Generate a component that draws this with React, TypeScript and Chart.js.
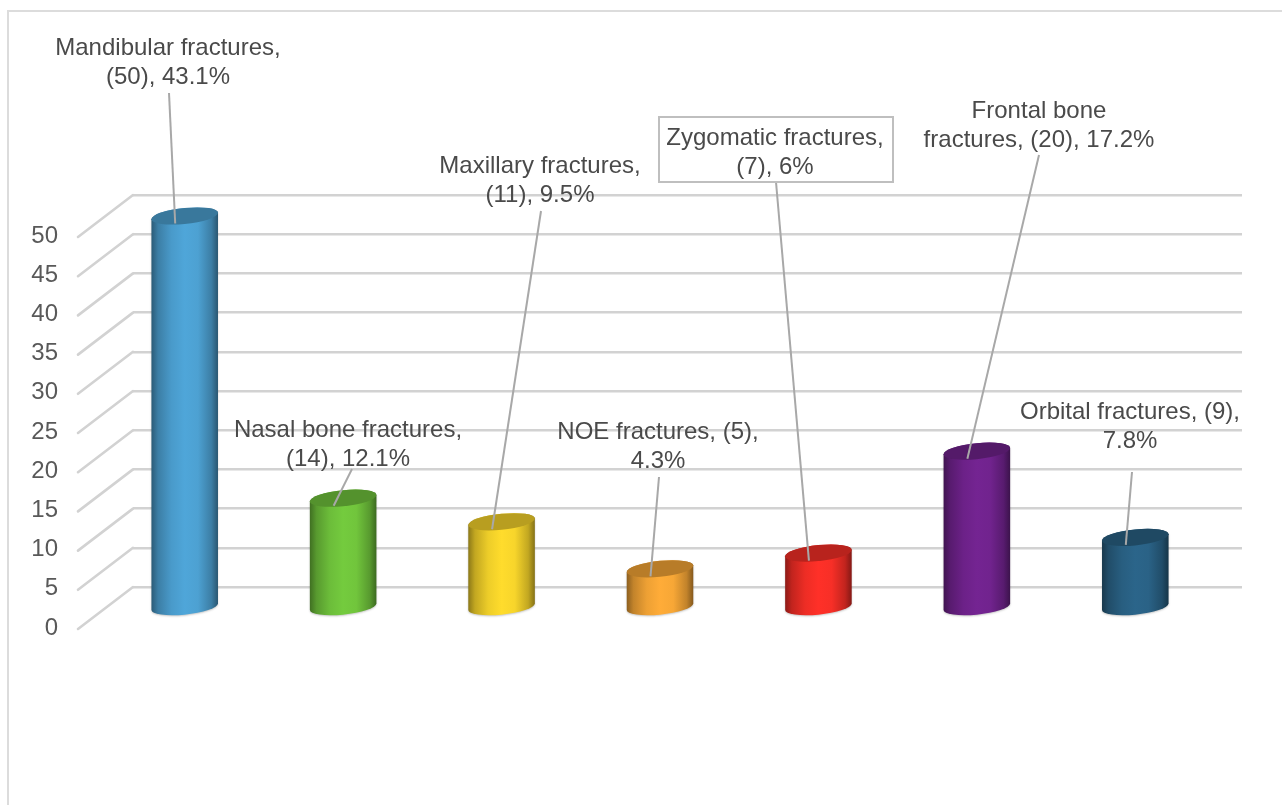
import React, { useEffect, useRef } from "react";
import { Chart, registerables } from "chart.js";

Chart.register(...registerables);

// Fracture sites, case counts and share of all cases.
const categories = [
  "Mandibular fractures",
  "Nasal bone fractures",
  "Maxillary fractures",
  "NOE fractures",
  "Zygomatic fractures",
  "Frontal bone fractures",
  "Orbital fractures",
];
const counts = [50, 14, 11, 5, 7, 20, 9];
const percents = ["43.1", "12.1", "9.5", "4.3", "6", "17.2", "7.8"];

// Number of words on the first line of each two-line callout.
const firstLineWords = [2, 3, 2, 3, 2, 2, 3];

const barColors = ["#4fa6d9", "#74cb3e", "#ffdc2c", "#ffac38", "#ff3028", "#742492", "#2b658a"];

// Callout text centre (first line) and where its leader line starts.
const calloutCentres = [
  [168, 48],
  [348, 430],
  [540, 166],
  [658, 432],
  [775, 138],
  [1039, 111],
  [1130, 412],
];
const leaderStarts = [
  [169, 93],
  [352, 469],
  [541, 211],
  [659, 477],
  [776, 182],
  [1039, 155],
  [1132, 472],
];
const boxedCallout = 4;

// Pseudo-3D projection: the floor recedes from the front edge to the back wall.
const DEPTH_X = 55;
const DEPTH_Y = 42;
const BAR_SHIFT_X = -27.5;
const BAR_SHIFT_Y = 21;
const CAP_RY = 8;
const CAP_TILT = 3.2;

const GRID_COLOR = "#d2d2d2";
const LEADER_COLOR = "#a8a8a8";
const TEXT_FONT = '24px "Liberation Sans", Arial, sans-serif';

function shade(hex: string, f: number) {
  const n = parseInt(hex.slice(1), 16);
  const r = Math.round(((n >> 16) & 255) * f);
  const g = Math.round(((n >> 8) & 255) * f);
  const b = Math.round((n & 255) * f);
  return `rgb(${r},${g},${b})`;
}

function calloutLines(i: number) {
  const words = `${categories[i]}, (${counts[i]}), ${percents[i]}%`.split(" ");
  const k = firstLineWords[i];
  return [words.slice(0, k).join(" "), words.slice(k).join(" ")];
}

function drawCylinder(ctx: CanvasRenderingContext2D, bar: any, color: string) {
  const rx = bar.width / 2;
  const top = bar.y + BAR_SHIFT_Y;
  const bottom = bar.base + BAR_SHIFT_Y;
  ctx.save();
  // Shear the local frame so both ellipses tilt up towards the right.
  ctx.transform(1, -CAP_TILT / rx, 0, 1, bar.x + BAR_SHIFT_X, 0);
  const g = ctx.createLinearGradient(-rx, 0, rx, 0);
  const stops = [
    [0, 0.55],
    [0.1, 0.76],
    [0.3, 0.93],
    [0.5, 1],
    [0.7, 0.97],
    [0.9, 0.76],
    [1, 0.52],
  ];
  stops.forEach(([p, f]) => g.addColorStop(p, shade(color, f)));
  ctx.save();
  ctx.shadowColor = "rgba(0,0,0,0.22)";
  ctx.shadowBlur = 2;
  ctx.shadowOffsetY = 1;
  ctx.beginPath();
  ctx.moveTo(-rx, top);
  ctx.lineTo(-rx, bottom);
  ctx.ellipse(0, bottom, rx, CAP_RY, 0, Math.PI, 0, true);
  ctx.lineTo(rx, top);
  ctx.ellipse(0, top, rx, CAP_RY, 0, 0, Math.PI, true);
  ctx.closePath();
  ctx.fillStyle = g;
  ctx.fill();
  ctx.restore();
  ctx.beginPath();
  ctx.ellipse(0, top, rx, CAP_RY, 0, 0, Math.PI * 2);
  ctx.fillStyle = shade(color, 0.72);
  ctx.fill();
  ctx.restore();
}

const chartDecor = {
  id: "chartDecor",
  beforeDraw(chart: any) {
    const { ctx, chartArea, width, height, scales } = chart;
    ctx.save();
    // Frame of the figure: only its top and left sides are visible.
    ctx.strokeStyle = "#dcdcdc";
    ctx.lineWidth = 2;
    ctx.beginPath();
    ctx.moveTo(8, height);
    ctx.lineTo(8, 11);
    ctx.lineTo(width, 11);
    ctx.stroke();
    // Side wall: one receding line per value gridline.
    ctx.strokeStyle = GRID_COLOR;
    ctx.lineWidth = 2.6;
    ctx.lineCap = "round";
    scales.y.ticks.forEach((t: any) => {
      const y = scales.y.getPixelForValue(t.value);
      ctx.beginPath();
      ctx.moveTo(chartArea.left, y);
      ctx.lineTo(chartArea.left - DEPTH_X, y + DEPTH_Y);
      ctx.stroke();
    });
    ctx.restore();
  },
  beforeDatasetsDraw(chart: any) {
    const { ctx } = chart;
    const meta = chart.getDatasetMeta(0);
    meta.data.forEach((bar: any, i: number) => {
      drawCylinder(ctx, bar, barColors[i]);
    });
    return false;
  },
  afterDraw(chart: any) {
    const { ctx } = chart;
    const meta = chart.getDatasetMeta(0);
    ctx.save();
    meta.data.forEach((bar: any, i: number) => {
      const [lx, ly] = leaderStarts[i];
      ctx.strokeStyle = LEADER_COLOR;
      ctx.lineWidth = 2;
      ctx.beginPath();
      ctx.moveTo(lx, ly);
      ctx.lineTo(bar.x + BAR_SHIFT_X - 9.5, bar.y + BAR_SHIFT_Y + 7.5);
      ctx.stroke();
    });
    // The zygomatic callout has a frame of its own.
    const [bx, by] = calloutCentres[boxedCallout];
    ctx.strokeStyle = "#bfbfbf";
    ctx.lineWidth = 2;
    ctx.strokeRect(bx - 116, by - 21, 234, 65);
    ctx.font = TEXT_FONT;
    ctx.fillStyle = "#4a4a4a";
    ctx.textAlign = "center";
    ctx.textBaseline = "middle";
    calloutCentres.forEach(([cx, cy], i) => {
      calloutLines(i).forEach((line, j) => {
        ctx.fillText(line, cx, cy + j * 29);
      });
    });
    ctx.restore();
  },
};

export default function App() {
  const canvasRef = useRef<HTMLCanvasElement | null>(null);

  useEffect(() => {
    const canvas = canvasRef.current;
    if (!canvas) return;
    const chart = new Chart(canvas, {
      type: "bar",
      data: {
        labels: categories,
        datasets: [
          {
            label: "Number of fractures",
            data: counts,
            backgroundColor: barColors,
            barPercentage: 0.42,
            categoryPercentage: 1,
          },
        ],
      },
      options: {
        responsive: false,
        animation: false,
        events: [],
        layout: {
          autoPadding: false,
          padding: { left: 0, top: 195, right: 40, bottom: 218 },
        },
        plugins: {
          legend: { display: false },
          title: { display: false },
          tooltip: { enabled: false },
        },
        scales: {
          x: {
            afterFit(scale: any) {
              scale.height = 0;
            },
            grid: { display: false, drawTicks: false },
            border: { display: false },
            ticks: { display: false, padding: 0 },
          },
          y: {
            min: 0,
            max: 50,
            afterFit(scale: any) {
              scale.width = 133;
            },
            grid: { color: GRID_COLOR, lineWidth: 2.6, drawTicks: false },
            border: { display: false },
            ticks: {
              stepSize: 5,
              padding: 75,
              labelOffset: 41,
              color: "#595959",
              font: { family: '"Liberation Sans", Arial, sans-serif', size: 24 },
            },
          },
        },
      },
      plugins: [chartDecor],
    } as any);
    return () => chart.destroy();
  }, []);

  return (
    <canvas
      ref={canvasRef}
      width={1282}
      height={805}
      style={{ position: "fixed", left: 0, top: 0, display: "block", background: "#fff" }}
    />
  );
}
